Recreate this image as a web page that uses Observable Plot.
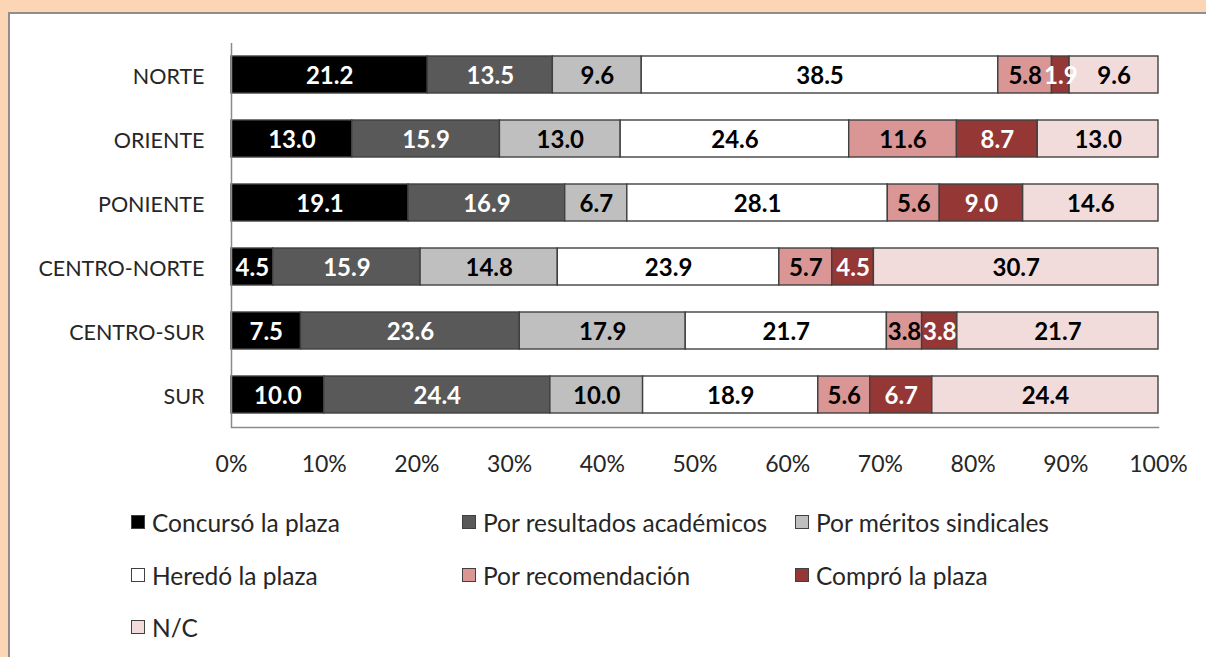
<!DOCTYPE html>
<html>
<head>
<meta charset="utf-8">
<script src="https://cdn.jsdelivr.net/npm/d3@7"></script>
<script src="https://cdn.jsdelivr.net/npm/@observablehq/plot@0.6"></script>
<style>
  html, body { margin: 0; padding: 0; }
  body { width: 1206px; height: 657px; background: #fcd5b4; overflow: hidden; position: relative; font-family: Lato, "Open Sans", sans-serif; }
  #box { position: absolute; left: 8px; top: 12px; width: 1220px; height: 700px; background: #fff; border: 2px solid #8e8e8e; box-sizing: border-box; }
  #chart { position: absolute; left: 0; top: 0; }
  .leg { position: absolute; display: flex; align-items: center; font-size: 24.5px; color: #262626; white-space: nowrap; }
  .sw { width: 14px; height: 14px; border: 1.3px solid #404040; box-sizing: border-box; margin-right: 7px; }
</style>
</head>
<body>
<div id="box"></div>
<div id="chart"></div>
<div id="legend"></div>
<script>
const regions = ["NORTE", "ORIENTE", "PONIENTE", "CENTRO-NORTE", "CENTRO-SUR", "SUR"];
const series = ["Concursó la plaza", "Por resultados académicos", "Por méritos sindicales", "Heredó la plaza", "Por recomendación", "Compró la plaza", "N/C"];
const concurso      = [21.2, 13.0, 19.1, 4.5, 7.5, 10.0];
const resultados    = [13.5, 15.9, 16.9, 15.9, 23.6, 24.4];
const meritos       = [9.6, 13.0, 6.7, 14.8, 17.9, 10.0];
const heredo        = [38.5, 24.6, 28.1, 23.9, 21.7, 18.9];
const recomendacion = [5.8, 11.6, 5.6, 5.7, 3.8, 5.6];
const compro        = [1.9, 8.7, 9.0, 4.5, 3.8, 6.7];
const nc            = [9.6, 13.0, 14.6, 30.7, 21.7, 24.4];
const xTicks = [0, 0.1, 0.2, 0.3, 0.4, 0.5, 0.6, 0.7, 0.8, 0.9, 1];

const seriesValues = [concurso, resultados, meritos, heredo, recomendacion, compro, nc];
const fillColors = ["#000000", "#595959", "#bfbfbf", "#ffffff", "#da9694", "#953735", "#f2dcdb"];
const textColors = ["#ffffff", "#ffffff", "#000000", "#000000", "#000000", "#ffffff", "#000000"];

const data = [];
series.forEach((s, si) => {
  regions.forEach((r, ri) => {
    data.push({region: r, series: s, si, value: seriesValues[si][ri]});
  });
});

const chart = Plot.plot({
  width: 1206,
  height: 490,
  marginLeft: 231,
  marginRight: 48,
  marginTop: 43,
  marginBottom: 63,
  style: {fontFamily: "Lato, 'Open Sans', sans-serif", background: "transparent"},
  x: {domain: [0, 1], ticks: xTicks, tickFormat: d => Math.round(d * 100) + "%", label: null},
  y: {domain: regions, paddingInner: 0.42, paddingOuter: 0.21, label: null},
  color: {type: "identity"},
  marks: [
    Plot.barX(data, Plot.stackX({
      x: "value", y: "region", z: "series", order: null, offset: "normalize",
      fill: d => fillColors[d.si], stroke: "#404040", strokeWidth: 1.4
    })),
    Plot.text(data, Plot.stackX({
      x: "value", y: "region", z: "series", order: null, offset: "normalize",
      text: d => d.value.toFixed(1), fill: d => textColors[d.si],
      fontSize: 24, fontWeight: "bold", dy: 1
    })),
    Plot.ruleX([0], {stroke: "#8a8a8a", strokeWidth: 1.5}),
    Plot.frame({anchor: "bottom", stroke: "#8a8a8a", strokeWidth: 1.5}),
    Plot.axisX({ticks: xTicks, tickSize: 0, tickPadding: 28, fontSize: 23, fill: "#262626", tickFormat: d => Math.round(d * 100) + "%"}),
    Plot.axisY({tickSize: 0, tickPadding: 27, fontSize: 21.5, fill: "#262626", dy: 2})
  ]
});
document.getElementById("chart").appendChild(chart);

const legendX = [131, 462, 795];
const legendY = [522, 575, 627];
const legend = document.getElementById("legend");
series.forEach((s, i) => {
  const el = document.createElement("div");
  el.className = "leg";
  el.style.left = legendX[i % 3] + "px";
  el.style.top = (legendY[Math.floor(i / 3)] - 15) + "px";
  el.style.height = "30px";
  const sw = document.createElement("div");
  sw.className = "sw";
  sw.style.background = fillColors[i];
  el.appendChild(sw);
  const t = document.createElement("span");
  t.textContent = s;
  el.appendChild(t);
  legend.appendChild(el);
});
</script>
</body>
</html>
